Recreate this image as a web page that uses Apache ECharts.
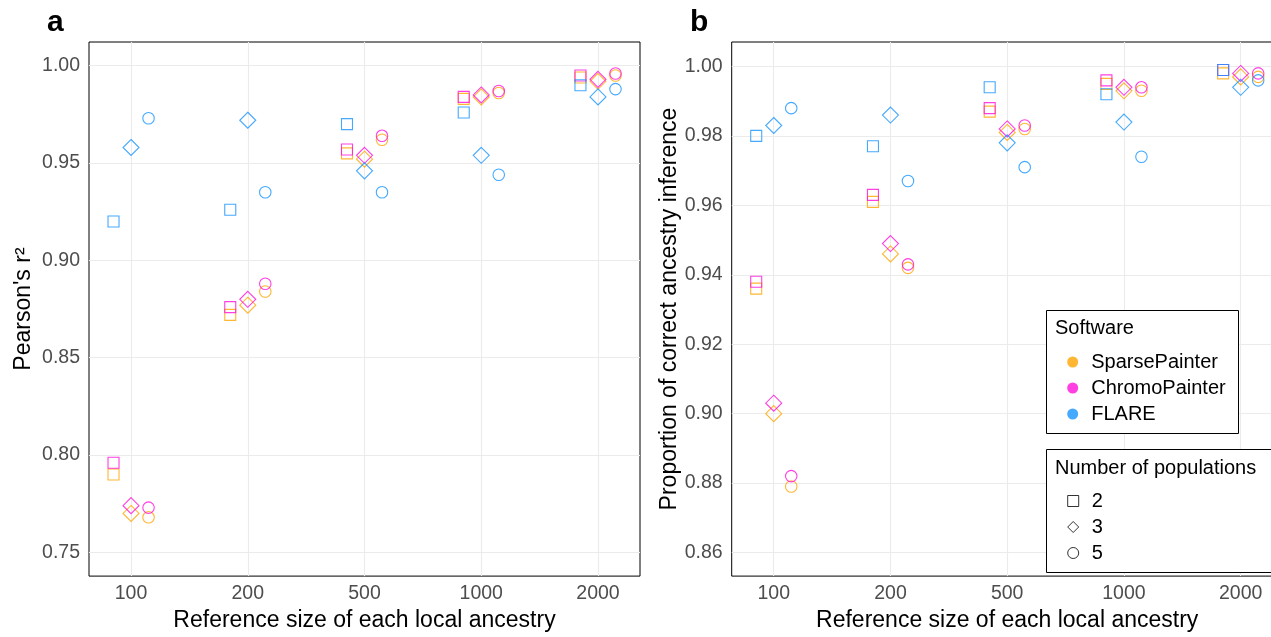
<!DOCTYPE html>
<html>
<head>
<meta charset="utf-8">
<script src="https://cdn.jsdelivr.net/npm/echarts@6/dist/echarts.min.js"></script>
<style>
  html, body { margin: 0; padding: 0; background: #fff; overflow: hidden; }
  /* 右侧面板在原图中被截断，容器比窗口略宽 */
  #main { width: 1300px; height: 637px; }
</style>
</head>
<body>
<div id="main"></div>
<script>
// 类别和刻度
var categories = ['100', '200', '500', '1000', '2000'];
var software = ['SparsePainter', 'ChromoPainter', 'FLARE'];
var populations = ['2', '3', '5'];
var yTicksA = [0.75, 0.80, 0.85, 0.90, 0.95, 1.00];
var yTicksB = [0.86, 0.88, 0.90, 0.92, 0.94, 0.96, 0.98, 1.00];

// a: Pearson's r2
var r2Sparse2 = [0.790, 0.872, 0.955, 0.983, 0.994];
var r2Sparse3 = [0.770, 0.877, 0.952, 0.984, 0.992];
var r2Sparse5 = [0.768, 0.884, 0.962, 0.986, 0.995];
var r2Chromo2 = [0.796, 0.876, 0.957, 0.984, 0.995];
var r2Chromo3 = [0.774, 0.880, 0.954, 0.985, 0.993];
var r2Chromo5 = [0.773, 0.888, 0.964, 0.987, 0.996];
var r2Flare2 = [0.920, 0.926, 0.970, 0.976, 0.990];
var r2Flare3 = [0.958, 0.972, 0.946, 0.954, 0.984];
var r2Flare5 = [0.973, 0.935, 0.935, 0.944, 0.988];

// b: proportion of correct ancestry inference
var accSparse2 = [0.936, 0.961, 0.987, 0.995, 0.998];
var accSparse3 = [0.900, 0.946, 0.981, 0.993, 0.997];
var accSparse5 = [0.879, 0.942, 0.982, 0.993, 0.997];
var accChromo2 = [0.938, 0.963, 0.988, 0.996, 0.999];
var accChromo3 = [0.903, 0.949, 0.982, 0.994, 0.998];
var accChromo5 = [0.882, 0.943, 0.983, 0.994, 0.998];
var accFlare2 = [0.980, 0.977, 0.994, 0.992, 0.999];
var accFlare3 = [0.983, 0.986, 0.978, 0.984, 0.994];
var accFlare5 = [0.988, 0.967, 0.971, 0.974, 0.996];

var colors = ['#FFA500', '#FF0FDB', '#1594FF'];
var shapes = ['rect', 'diamond', 'circle'];
var shapeSize = [11, 16, 11.5];
var dodge = [-0.15, 0, 0.15];
var font = 'Liberation Sans, Arial, sans-serif';

var panelA = [[r2Sparse2, r2Sparse3, r2Sparse5], [r2Chromo2, r2Chromo3, r2Chromo5], [r2Flare2, r2Flare3, r2Flare5]];
var panelB = [[accSparse2, accSparse3, accSparse5], [accChromo2, accChromo3, accChromo5], [accFlare2, accFlare3, accFlare5]];

var xTickPos = categories.map(function (c, i) { return i + 1; });

function buildSeries(panel, idx) {
    var out = [];
    panel.forEach(function (bySoft, s) {
        bySoft.forEach(function (vals, p) {
            out.push({
                name: software[s],
                type: 'scatter',
                xAxisIndex: idx,
                yAxisIndex: idx,
                symbol: shapes[p],
                symbolSize: shapeSize[p],
                itemStyle: { color: 'rgba(255,255,255,0)', borderColor: colors[s], borderWidth: 1.1 },
                emphasis: { disabled: true },
                data: vals.map(function (v, i) { return [i + 1 + dodge[p], v]; })
            });
        });
    });
    return out;
}

function xAxisOf(idx) {
    return {
        gridIndex: idx,
        type: 'value',
        min: 0.64,
        max: 5.36,
        axisLine: { show: false },
        axisTick: { show: false, customValues: xTickPos },
        axisLabel: {
            customValues: xTickPos,
            formatter: function (v) { return categories[Math.round(v) - 1]; },
            color: '#4D4D4D', fontSize: 19.5, fontFamily: font, margin: 8
        },
        splitLine: { show: true, lineStyle: { color: '#EBEBEB', width: 1.1 } },
        name: 'Reference size of each local ancestry',
        nameLocation: 'middle',
        nameGap: 32,
        nameTextStyle: { color: '#000', fontSize: 23, fontFamily: font }
    };
}

function yAxisOf(idx, ticks, min, max, name, gap) {
    return {
        gridIndex: idx,
        type: 'value',
        min: min,
        max: max,
        axisLine: { show: false },
        axisTick: { show: false, customValues: ticks },
        axisLabel: {
            customValues: ticks,
            formatter: function (v) { return v.toFixed(2); },
            color: '#4D4D4D', fontSize: 19.5, fontFamily: font, margin: 9
        },
        splitLine: { show: true, lineStyle: { color: '#EBEBEB', width: 1.1 } },
        name: name,
        nameLocation: 'middle',
        nameRotate: 90,
        nameGap: gap,
        nameTextStyle: { color: '#000', fontSize: 23, fontFamily: font }
    };
}

var series = buildSeries(panelA, 0).concat(buildSeries(panelB, 1));
// 图例用的空系列
populations.forEach(function (p, i) {
    series.push({ name: p, type: 'scatter', xAxisIndex: 1, yAxisIndex: 1, symbol: shapes[i], data: [] });
});

var myChart = echarts.init(document.getElementById('main'));
myChart.setOption({
    animation: false,
    backgroundColor: '#fff',
    textStyle: { fontFamily: font },
    grid: [
        { left: 89, top: 42, width: 551, height: 541, show: true, borderColor: '#000', borderWidth: 1, backgroundColor: 'transparent' },
        { left: 731.7, top: 42, width: 551, height: 541, show: true, borderColor: '#000', borderWidth: 1, backgroundColor: 'transparent' }
    ],
    xAxis: [xAxisOf(0), xAxisOf(1)],
    yAxis: [
        yAxisOf(0, yTicksA, 0.7378, 1.0122, "Pearson's r²", 54),
        yAxisOf(1, yTicksB, 0.8532, 1.00705, 'Proportion of correct ancestry inference', 49)
    ],
    legend: [
        {
            orient: 'vertical', left: 1062.2, top: 344,
            itemWidth: 11, itemHeight: 11, itemGap: 0,
            selectedMode: false, z: 5,
            textStyle: { fontSize: 20, color: '#000', fontFamily: font, lineHeight: 26, padding: [0, 0, 0, 8] },
            data: software.map(function (s, i) {
                return { name: s, icon: 'circle', itemStyle: { color: colors[i], borderWidth: 0 } };
            })
        },
        {
            orient: 'vertical', left: 1062.2, top: 483,
            itemWidth: 11, itemHeight: 11, itemGap: 0,
            selectedMode: false, z: 5,
            textStyle: { fontSize: 20, color: '#000', fontFamily: font, lineHeight: 26, padding: [0, 0, 0, 8] },
            data: populations.map(function (p, i) {
                return { name: p, icon: shapes[i], itemStyle: { color: 'rgba(255,255,255,0)', borderColor: '#000', borderWidth: 1 } };
            })
        }
    ],
    graphic: [
        { type: 'text', x: 47, y: 23, style: { text: 'a', fontSize: 30, fontWeight: 'bold', fontFamily: font, fill: '#000', verticalAlign: 'middle' } },
        { type: 'text', x: 690, y: 23, style: { text: 'b', fontSize: 30, fontWeight: 'bold', fontFamily: font, fill: '#000', verticalAlign: 'middle' } },
        { type: 'rect', z: 3, shape: { x: 1046.5, y: 310.5, width: 192, height: 123 }, style: { fill: '#fff', stroke: '#000', lineWidth: 1 } },
        { type: 'rect', z: 3, shape: { x: 1046.5, y: 449.5, width: 300, height: 123 }, style: { fill: '#fff', stroke: '#000', lineWidth: 1 } },
        { type: 'text', z: 4, x: 1055, y: 328, style: { text: 'Software', fontSize: 20, fontFamily: font, fill: '#000', verticalAlign: 'middle' } },
        { type: 'text', z: 4, x: 1055, y: 468, style: { text: 'Number of populations', fontSize: 20, fontFamily: font, fill: '#000', verticalAlign: 'middle' } }
    ],
    series: series
});
</script>
</body>
</html>
